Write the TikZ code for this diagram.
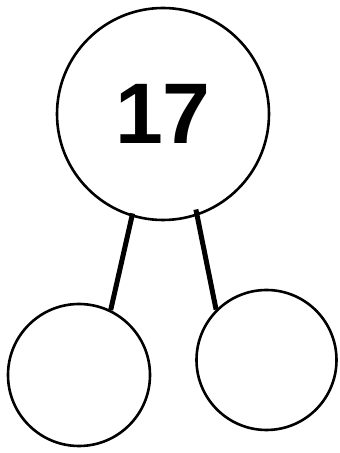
\documentclass[tikz,border=0pt]{standalone}
\usepackage{fontspec}
\setmainfont{Liberation Sans}
\usetikzlibrary{calc}
\begin{document}
\begin{tikzpicture}[x=1pt,y=1pt,
  ring/.style={draw=black,circle,line width=2.6pt,inner sep=0pt,fill=white},
  stem/.style={draw=black,line width=5pt,line cap=butt}]
\useasboundingbox (0,0) rectangle (340,453);
\fill[white] (0,0) rectangle (340,453);
\node[ring,minimum size=212pt,font=\fontsize{86}{86}\selectfont\bfseries] (big) at (163,339) {17};
\node[ring,minimum size=142pt] (left) at (79,78) {};
\node[ring,minimum size=140pt] (right) at (266.5,93) {};
\draw[stem] ($(big.center)+(253:104)$) -- (left.64);
\draw[stem] ($(big.center)+(289:101)$) -- (right.135);
\end{tikzpicture}
\end{document}
